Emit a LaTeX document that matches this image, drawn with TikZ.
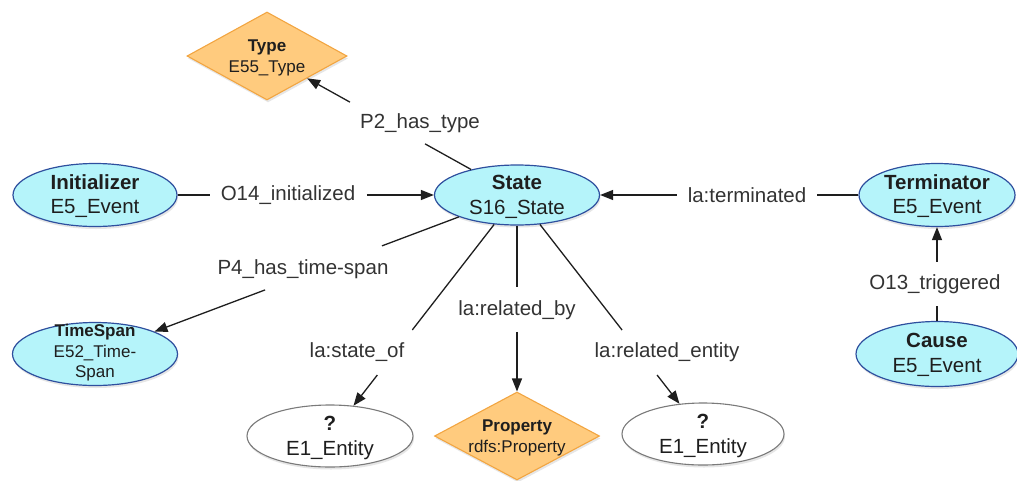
\documentclass[tikz,border=0pt]{standalone}
\usepackage{fontspec}
\setmainfont{Liberation Sans}
\usetikzlibrary{shapes.geometric,arrows.meta,calc,shadows}
\definecolor{evfill}{HTML}{B5F4FA}
\definecolor{evline}{HTML}{2E4F9E}
\definecolor{tyfill}{HTML}{FFCB7E}
\definecolor{tyline}{HTML}{F2A541}
\definecolor{enline}{HTML}{7A7A7A}
\definecolor{ink}{HTML}{1E1E1E}
\definecolor{lblink}{HTML}{333333}
\begin{document}
\begin{tikzpicture}[x=1pt,y=-1pt,
  softshadow/.style={drop shadow={opacity=0.2,shadow xshift=1pt,shadow yshift=-2.5pt}},
  evnode/.style={ellipse,draw=evline,fill=evfill,line width=1.2pt,minimum height=63pt,inner sep=0pt,softshadow},
  ennode/.style={ellipse,draw=enline,fill=white,line width=1.1pt,minimum height=62pt,inner sep=0pt,softshadow},
  tynode/.style={diamond,draw=tyline,fill=tyfill,line width=1.1pt,minimum height=88pt,inner sep=0pt,softshadow},
  bigtext/.style={font=\fontsize{20.5}{24.5}\selectfont,align=center,text=ink,inner sep=0pt},
  smalltext/.style={font=\fontsize{17}{20.5}\selectfont,align=center,text=ink,inner sep=0pt},
  edgelabel/.style={font=\fontsize{20.5}{24.5}\selectfont,text=lblink,inner sep=0pt},
  conn/.style={draw=ink,line width=1.3pt},
  arr/.style={conn,-{Triangle[length=13pt,width=10pt]}}
]
\useasboundingbox (0,0) rectangle (1017,480);

% shapes
\node[tynode,minimum width=160pt] (type) at (267,56) {};
\node[evnode,minimum width=165pt,minimum height=60pt] (state) at (517,195) {};
\node[evnode,minimum width=164pt] (init) at (95,195) {};
\node[evnode,minimum width=156pt] (term) at (937,195) {};
\node[evnode,minimum width=165pt] (span) at (95,354) {};
\node[evnode,minimum width=162pt,minimum height=65pt] (cause) at (937,354) {};
\node[ennode,minimum width=166pt] (ent1) at (330,436) {};
\node[tynode,minimum width=165pt] (prop) at (517,436) {};
\node[ennode,minimum width=162pt] (ent2) at (703,434) {};

% shape texts
\node[smalltext] (type-t) at (267,58) {\textbf{Type}\\E55\_Type};
\node[bigtext] (state-t) at (517,197) {\textbf{State}\\S16\_State};
\node[bigtext] (init-t) at (95,196) {\textbf{Initializer}\\E5\_Event};
\node[bigtext] (term-t) at (937,196) {\textbf{Terminator}\\E5\_Event};
\node[smalltext] (span-t) at (95,353) {\textbf{TimeSpan}\\E52\_Time-\\Span};
\node[bigtext] (cause-t) at (937,355) {\textbf{Cause}\\E5\_Event};
\node[bigtext] (ent1-t) at (330,438) {\textbf{?}\\E1\_Entity};
\node[smalltext] (prop-t) at (517,438) {\textbf{Property}\\rdfs:Property};
\node[bigtext] (ent2-t) at (703,436) {\textbf{?}\\E1\_Entity};

% gaps left in the connectors for their labels
\coordinate (p2a) at ($(state)!0.368!(type)$);
\coordinate (p2b) at ($(state)!0.668!(type)$);
\coordinate (o14a) at ($(init)!0.2725!(state)$);
\coordinate (o14b) at ($(init)!0.6445!(state)$);
\coordinate (tera) at ($(term)!0.285!(state)$);
\coordinate (terb) at ($(term)!0.62!(state)$);
\coordinate (p4a) at ($(state)!0.32!(span)$);
\coordinate (p4b) at ($(state)!0.597!(span)$);
\coordinate (soa) at ($(state)!0.56!(ent1)$);
\coordinate (sob) at ($(state)!0.747!(ent1)$);
\coordinate (rba) at ($(state)!0.382!(prop)$);
\coordinate (rbb) at ($(state)!0.568!(prop)$);
\coordinate (rea) at ($(state)!0.565!(ent2)$);
\coordinate (reb) at ($(state)!0.753!(ent2)$);
\coordinate (tra) at ($(cause)!0.30!(term)$);
\coordinate (trb) at ($(cause)!0.579!(term)$);

% connectors
\draw[conn] (state) -- (p2a);
\draw[arr] (p2b) -- (type);
\draw[conn] (init) -- (o14a);
\draw[arr] (o14b) -- (state);
\draw[conn] (term) -- (tera);
\draw[arr] (terb) -- (state);
\draw[conn] (state) -- (p4a);
\draw[arr] (p4b) -- (span);
\draw[conn] (state) -- (soa);
\draw[arr] (sob) -- (ent1);
\draw[conn] (state) -- (rba);
\draw[arr] (rbb) -- (prop);
\draw[conn] (state) -- (rea);
\draw[arr] (reb) -- (ent2);
\draw[conn] (cause) -- (tra);
\draw[arr] (trb) -- (term);

% connector labels
\node[edgelabel] (p2-l) at (420,123) {P2\_has\_type};
\node[edgelabel] (o14-l) at (288,195) {O14\_initialized};
\node[edgelabel] (ter-l) at (747,195) {la:terminated};
\node[edgelabel] (p4-l) at (303,269) {P4\_has\_time-span};
\node[edgelabel] (so-l) at (357,352) {la:state\_of};
\node[edgelabel] (rb-l) at (517,310) {la:related\_by};
\node[edgelabel] (re-l) at (667,352) {la:related\_entity};
\node[edgelabel] (tr-l) at (935,284) {O13\_triggered};
\end{tikzpicture}
\end{document}
